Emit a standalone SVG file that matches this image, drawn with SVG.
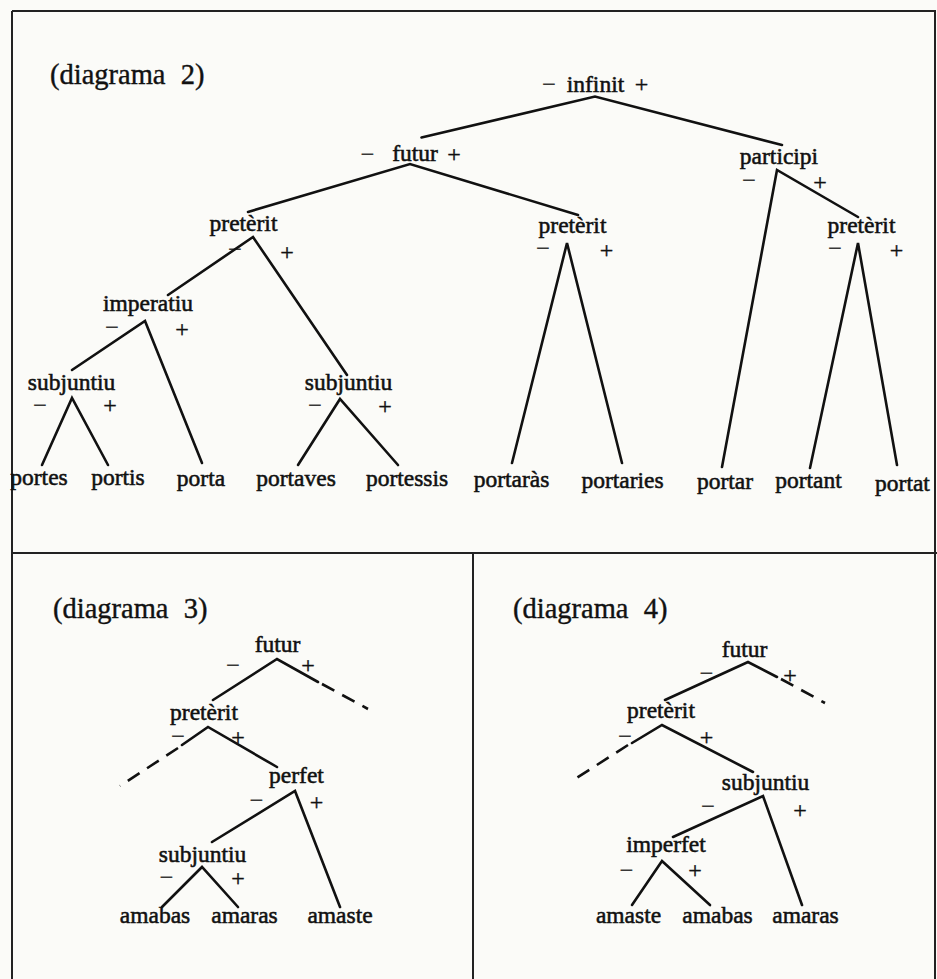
<svg xmlns="http://www.w3.org/2000/svg" width="937" height="979" viewBox="0 0 937 979">
<style>
.bg{fill:#fbfbf8}
.frame{stroke:#222;stroke-width:2;fill:none}
.e{stroke:#111;stroke-width:2.6;fill:none;stroke-linecap:round}
.d{stroke:#111;stroke-width:2.6;fill:none;stroke-dasharray:14 9}
text{font-family:"Liberation Serif","Times New Roman",serif;fill:#111;stroke:#111;stroke-width:0.55}
.n{font-size:23.5px;text-anchor:middle}
.s{font-size:24px;text-anchor:middle;stroke-width:0.4}
.t{font-size:28.5px;word-spacing:8px;stroke-width:0.4}
</style>
<rect class="bg" x="0" y="0" width="937" height="979"/>
<g id="frame">
<path class="frame" d="M12,11 H935 V979 M12,11 V979 M12,553 H937 M473,553 V979"/>
</g>
<g id="titles">
<text class="t" x="50" y="84">(diagrama 2)</text>
<text class="t" x="53" y="618">(diagrama 3)</text>
<text class="t" x="513" y="618">(diagrama 4)</text>
</g>
<g id="connectors">
<path class="e" d="M421.5,137.5 L595,96.5 L782,145"/>
<path class="e" d="M248,212 L410,164 L578,215"/>
<path class="e" d="M722,467 L777,170 L858,217"/>
<path class="e" d="M168,295 L253,237 L347,375"/>
<path class="e" d="M512,463 L567,243 L622,463"/>
<path class="e" d="M810,468 L858,243 L897,465"/>
<path class="e" d="M72,370 L145,321 L202,463"/>
<path class="e" d="M42,465 L72,398 L108,465"/>
<path class="e" d="M298,465 L340,399 L398,465"/>
<path class="e" d="M213,700 L277,659 L318,682"/>
<path class="d" d="M322,684 L368,709"/>
<path class="e" d="M182,745 L208,727 L277,767"/>
<path class="d" d="M178,748 L120,786"/>
<path class="e" d="M212,842 L295,791 L340,907"/>
<path class="e" d="M162,907 L202,867 L238,907"/>
<path class="e" d="M665,700 L748,662 L777,677"/>
<path class="d" d="M781,679 L825,703"/>
<path class="e" d="M632,743 L662,725 L753,772"/>
<path class="d" d="M628,745 L575,779"/>
<path class="e" d="M673,837 L763,796 L802,905"/>
<path class="e" d="M632,905 L662,861 L710,905"/>
</g>
<g id="n-infinit"><text class="s" x="549" y="92">−</text><text class="n" x="595.5" y="92">infinit</text><text class="s" x="641.5" y="92">+</text></g>
<g id="n-futur"><text class="s" x="367.5" y="162">−</text><text class="n" x="415" y="161">futur</text><text class="s" x="454" y="162">+</text></g>
<g id="n-participi"><text class="n" x="779" y="164">participi</text><text class="s" x="749" y="188">−</text><text class="s" x="820" y="190">+</text></g>
<g id="n-preterit-1"><text class="n" x="243.5" y="231">pretèrit</text><text class="s" x="235" y="257">−</text><text class="s" x="287" y="260">+</text></g>
<g id="n-preterit-2"><text class="n" x="572.5" y="233">pretèrit</text><text class="s" x="543" y="256">−</text><text class="s" x="606.5" y="258">+</text></g>
<g id="n-preterit-3"><text class="n" x="861.5" y="233">pretèrit</text><text class="s" x="835" y="256">−</text><text class="s" x="896.5" y="258">+</text></g>
<g id="n-imperatiu"><text class="n" x="148" y="311">imperatiu</text><text class="s" x="112" y="335">−</text><text class="s" x="182" y="337">+</text></g>
<g id="n-subjuntiu-1"><text class="n" x="71.5" y="390">subjuntiu</text><text class="s" x="40" y="413">−</text><text class="s" x="110" y="413">+</text></g>
<g id="n-subjuntiu-2"><text class="n" x="348.5" y="390">subjuntiu</text><text class="s" x="315" y="413">−</text><text class="s" x="385" y="414">+</text></g>
<g id="leaves-2">
<text class="n" x="39" y="485">portes</text>
<text class="n" x="118" y="485">portis</text>
<text class="n" x="201" y="486">porta</text>
<text class="n" x="296" y="486">portaves</text>
<text class="n" x="407" y="486">portessis</text>
<text class="n" x="511.5" y="487">portaràs</text>
<text class="n" x="622.5" y="488">portaries</text>
<text class="n" x="725" y="489">portar</text>
<text class="n" x="808.5" y="488">portant</text>
<text class="n" x="902.5" y="491">portat</text>
</g>
<g id="d3-futur"><text class="n" x="277.5" y="652">futur</text><text class="s" x="233" y="673">−</text><text class="s" x="308" y="673">+</text></g>
<g id="d3-preterit"><text class="n" x="204" y="720">pretèrit</text><text class="s" x="178" y="744">−</text><text class="s" x="238" y="745">+</text></g>
<g id="d3-perfet"><text class="n" x="296.5" y="783">perfet</text><text class="s" x="256.5" y="808">−</text><text class="s" x="316.5" y="810">+</text></g>
<g id="d3-subjuntiu"><text class="n" x="202.5" y="862">subjuntiu</text><text class="s" x="166.5" y="885">−</text><text class="s" x="238" y="886">+</text></g>
<g id="d3-leaves">
<text class="n" x="155" y="923">amabas</text>
<text class="n" x="244.5" y="923">amaras</text>
<text class="n" x="340" y="923">amaste</text>
</g>
<g id="d4-futur"><text class="n" x="744.5" y="657">futur</text><text class="s" x="706.5" y="681">−</text><text class="s" x="790" y="683">+</text></g>
<g id="d4-preterit"><text class="n" x="661" y="718">pretèrit</text><text class="s" x="625" y="744">−</text><text class="s" x="706.5" y="745">+</text></g>
<g id="d4-subjuntiu"><text class="n" x="765.5" y="790">subjuntiu</text><text class="s" x="708" y="814">−</text><text class="s" x="800" y="818">+</text></g>
<g id="d4-imperfet"><text class="n" x="666" y="852">imperfet</text><text class="s" x="626.5" y="878">−</text><text class="s" x="695" y="878">+</text></g>
<g id="d4-leaves">
<text class="n" x="628.5" y="923">amaste</text>
<text class="n" x="717.5" y="923">amabas</text>
<text class="n" x="805.5" y="923">amaras</text>
</g>
</svg>
